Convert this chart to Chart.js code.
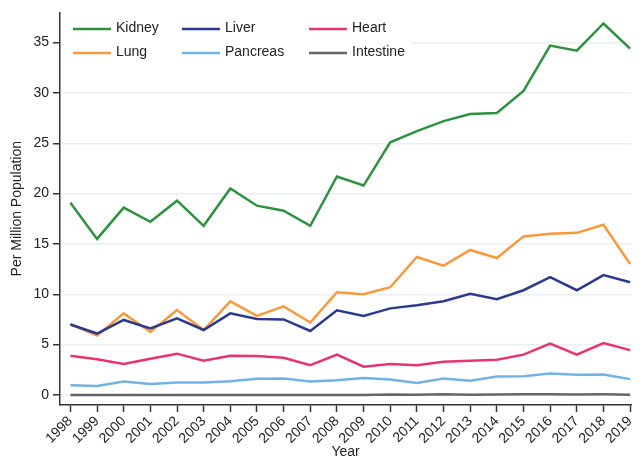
<!DOCTYPE html>
<html>
<head>
<meta charset="utf-8">
<script src="https://cdn.jsdelivr.net/npm/chart.js"></script>
<style>
  html, body { margin: 0; padding: 0; background: #fff; }
  #wrap { width: 643px; height: 459px; }
</style>
</head>
<body>
<div id="wrap"><canvas id="chart" width="643" height="459"></canvas></div>
<script>
  const years = [1998, 1999, 2000, 2001, 2002, 2003, 2004, 2005, 2006, 2007, 2008,
                 2009, 2010, 2011, 2012, 2013, 2014, 2015, 2016, 2017, 2018, 2019];

  const kidney    = [19.1, 15.5, 18.6, 17.2, 19.3, 16.8, 20.5, 18.8, 18.3, 16.8, 21.7,
                     20.8, 25.1, 26.2, 27.2, 27.9, 28.0, 30.2, 34.7, 34.2, 36.9, 34.4];
  const liver     = [7.0, 6.1, 7.45, 6.6, 7.6, 6.45, 8.1, 7.55, 7.5, 6.35, 8.4,
                     7.85, 8.6, 8.9, 9.3, 10.05, 9.5, 10.4, 11.7, 10.4, 11.9, 11.2];
  const heart     = [3.9, 3.55, 3.07, 3.6, 4.1, 3.4, 3.9, 3.86, 3.7, 2.95, 4.0,
                     2.8, 3.07, 2.95, 3.3, 3.4, 3.5, 4.0, 5.1, 4.0, 5.16, 4.45];
  const lung      = [7.03, 5.9, 8.1, 6.25, 8.43, 6.45, 9.3, 7.85, 8.8, 7.2, 10.2,
                     10.0, 10.7, 13.7, 12.85, 14.4, 13.6, 15.75, 16.0, 16.1, 16.9, 13.0];
  const pancreas  = [0.95, 0.88, 1.34, 1.08, 1.24, 1.24, 1.37, 1.6, 1.63, 1.34, 1.47,
                     1.67, 1.54, 1.18, 1.63, 1.4, 1.83, 1.86, 2.12, 2.0, 2.03, 1.57];
  const intestine = [0, 0, 0, 0, 0, 0, 0, 0, 0, 0, 0,
                     0, 0.05, 0.02, 0.07, 0.03, 0.05, 0.06, 0.06, 0.05, 0.06, 0.03];

  const yTicks = [0, 5, 10, 15, 20, 25, 30, 35];

  const series = [
    { label: "Kidney",    data: kidney,    color: "#2e9140" },
    { label: "Liver",     data: liver,     color: "#2b3a8f" },
    { label: "Heart",     data: heart,     color: "#e8336f" },
    { label: "Lung",      data: lung,      color: "#f8993c" },
    { label: "Pancreas",  data: pancreas,  color: "#72b2e4" },
    { label: "Intestine", data: intestine, color: "#666666" }
  ];

  const FONT = "'Liberation Sans', Arial, sans-serif";

  // legend drawn inside the plot, 3 columns x 2 rows
  const insideLegend = {
    id: "insideLegend",
    beforeDatasetsDraw(chart) {
      const ctx = chart.ctx;
      const cols = [73, 182, 309];
      const rows = [29, 53];
      ctx.save();
      ctx.fillStyle = "#fff";
      ctx.fillRect(chart.chartArea.left + 1, 12, 410 - chart.chartArea.left, 54);
      ctx.font = "14px " + FONT;
      ctx.textBaseline = "middle";
      chart.data.datasets.forEach((ds, i) => {
        const x = cols[i % 3], y = rows[Math.floor(i / 3)];
        ctx.strokeStyle = ds.borderColor;
        ctx.lineWidth = 2.5;
        ctx.beginPath();
        ctx.moveTo(x, y);
        ctx.lineTo(x + 38, y);
        ctx.stroke();
        ctx.fillStyle = "#222";
        ctx.fillText(ds.label, x + 43, y - 1);
      });
      ctx.restore();
    }
  };

  new Chart(document.getElementById("chart"), {
    type: "line",
    data: {
      datasets: series.map(s => ({
        label: s.label,
        data: years.map((yr, i) => ({ x: yr, y: s.data[i] })),
        borderColor: s.color,
        backgroundColor: s.color,
        borderWidth: 2.5,
        pointRadius: 0,
        tension: 0,
        fill: false
      }))
    },
    options: {
      responsive: false,
      animation: false,
      layout: { padding: { top: 8, right: 0, left: 0, bottom: 0 } },
      plugins: { legend: { display: false }, tooltip: { enabled: false } },
      scales: {
        x: {
          type: "linear",
          min: 1997.61,
          max: 2019.04,
          afterBuildTicks: axis => { axis.ticks = years.map(v => ({ value: v })); },
          afterFit: axis => { axis.height = 54; },
          border: { color: "#333", width: 1.5 },
          grid: { drawOnChartArea: false, tickLength: 7, tickColor: "#333", tickWidth: 1.5 },
          ticks: {
            minRotation: 45, maxRotation: 45, autoSkip: false, padding: 1,
            color: "#222", font: { family: FONT, size: 14 },
            callback: v => String(v)
          },
          title: { display: true, text: "Year", color: "#222", font: { family: FONT, size: 14, lineHeight: 1 }, padding: { top: 0, bottom: 0 } }
        },
        y: {
          min: -1,
          max: 38,
          afterBuildTicks: axis => { axis.ticks = yTicks.map(v => ({ value: v })); },
          afterFit: axis => { axis.width = 60; },
          border: { color: "#333", width: 1.5 },
          grid: { color: "#eaf0f2", lineWidth: 1.5, tickLength: 7, tickColor: "#333", tickWidth: 1.5 },
          ticks: { padding: 4, color: "#222", font: { family: FONT, size: 14 } },
          title: { display: true, text: "Per Million Population", color: "#222", font: { family: FONT, size: 14, lineHeight: 1 }, padding: { top: 10, bottom: 0 } }
        }
      }
    },
    plugins: [insideLegend]
  });
</script>
</body>
</html>
